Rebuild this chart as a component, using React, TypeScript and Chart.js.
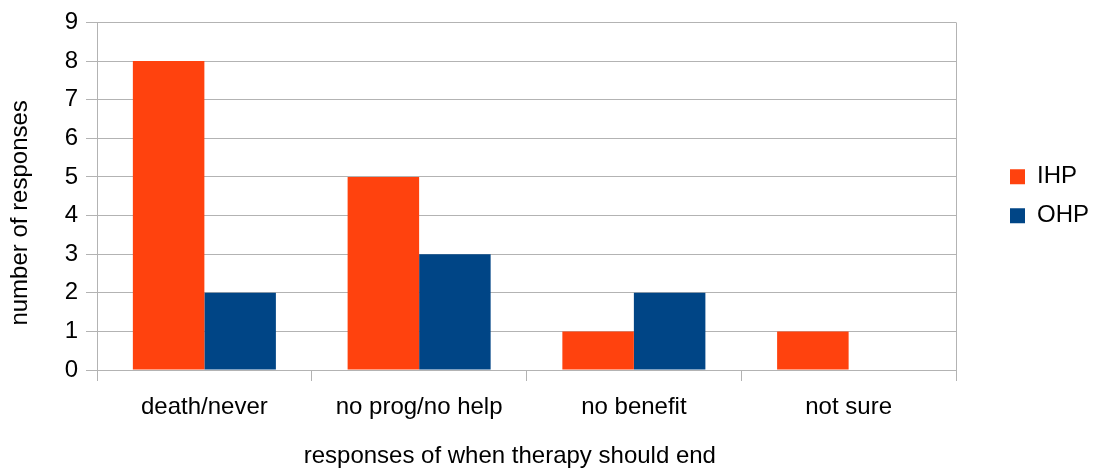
import React, { useEffect, useRef } from "react";
import { Chart, registerables } from "chart.js";

Chart.register(...registerables);

const categories = ["death/never", "no prog/no help", "no benefit", "not sure"];
const ihpValues = [8, 5, 1, 1];
const ohpValues = [2, 3, 2, 0];
const seriesNames = ["IHP", "OHP"];
const yTicks = [0, 1, 2, 3, 4, 5, 6, 7, 8, 9];
const xTitle = "responses of when therapy should end\u00a0\u00a0\u00a0\u00a0\u00a0";
const yTitle = "number of responses\u00a0\u00a0\u00a0\u00a0\u00a0";

const GRID = "#b3b3b3";
const FONT = "'Liberation Sans', Arial, sans-serif";

export default function App() {
  const ref = useRef<HTMLCanvasElement | null>(null);

  useEffect(() => {
    if (!ref.current) return;
    Chart.defaults.font.family = FONT;
    Chart.defaults.color = "#000";
    const chart = new Chart(ref.current, {
      type: "bar",
      data: {
        labels: categories,
        datasets: [
          { label: seriesNames[0], data: ihpValues, backgroundColor: "#ff420e", borderWidth: 0, yAxisID: "y" },
          { label: seriesNames[1], data: ohpValues, backgroundColor: "#004586", borderWidth: 0, yAxisID: "y" },
        ],
      },
      options: {
        responsive: false,
        animation: false,
        layout: { padding: { top: 22, left: 0, right: 0, bottom: 0 } },
        datasets: { bar: { categoryPercentage: 0.666, barPercentage: 1 } },
        plugins: {
          tooltip: { enabled: false },
          legend: {
            position: "right",
            align: "center",
            fullSize: false,
            maxWidth: 98,
            labels: {
              boxWidth: 15,
              boxHeight: 15,
              padding: 15,
              color: "#000",
              font: { size: 24, family: FONT },
            },
          },
        },
        scales: {
          x: {
            grid: {
              offset: true,
              drawOnChartArea: true,
              color: (ctx: any) => (ctx.type === "tick" && ctx.index > 0 ? "rgba(0,0,0,0)" : GRID),
              tickColor: GRID,
              tickLength: 11,
            },
            border: { color: GRID },
            ticks: { color: "#000", padding: 12, font: { size: 24, family: FONT } },
            title: { display: true, text: xTitle, color: "#000", padding: { top: 0, bottom: 0 }, font: { size: 24, family: FONT, lineHeight: 1 } },
            afterFit: (scale: any) => { scale.height = 98; },
          },
          y: {
            min: 0,
            max: 9,
            afterBuildTicks: (scale: any) => { scale.ticks = yTicks.map((v) => ({ value: v })); },
            grid: { color: GRID, tickColor: GRID, tickLength: 11 },
            border: { color: GRID },
            ticks: { color: "#000", padding: 8, font: { size: 24, family: FONT } },
            title: { display: true, text: yTitle, color: "#000", padding: { top: 8, bottom: 0 }, font: { size: 24, family: FONT, lineHeight: 1 } },
            afterFit: (scale: any) => { scale.width = 97; },
          },
          yRight: {
            type: "linear",
            position: "right",
            display: true,
            grid: { display: false, drawTicks: false },
            border: { display: false },
            ticks: { display: false },
            afterFit: (scale: any) => { scale.width = 39; },
          },
        },
      },
    });
    return () => chart.destroy();
  }, []);

  return (
    <div style={{ position: "absolute", left: 0, top: 0, width: 1093, height: 468, background: "#fff" }}>
      <canvas ref={ref} width={1093} height={468} />
    </div>
  );
}
